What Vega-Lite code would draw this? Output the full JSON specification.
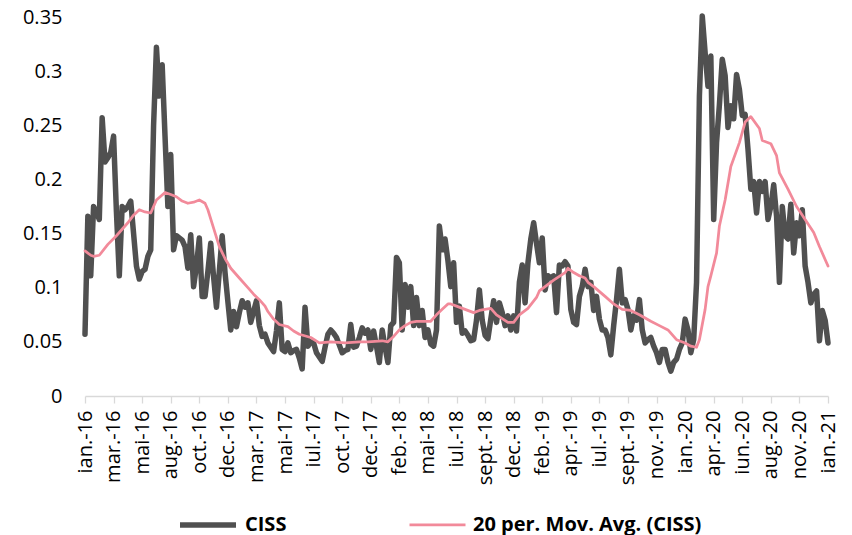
{
"$schema": "https://vega.github.io/schema/vega-lite/v6.json",
"width": 743, "height": 379,
"autosize": {"type": "none"},
"padding": {"left": 85, "top": 17, "right": 24, "bottom": 139},
"background": "white",
"config": {"view": {"stroke": null}, "font": "Open Sans"},
"data": {"values": [
{"w":0,"s":"CISS","v":0.057},{"w":1,"s":"CISS","v":0.166},{"w":2,"s":"CISS","v":0.111},{"w":3,"s":"CISS","v":0.175},{"w":4,"s":"CISS","v":0.170},{"w":5,"s":"CISS","v":0.163},{"w":6,"s":"CISS","v":0.257},{"w":7,"s":"CISS","v":0.216},{"w":8,"s":"CISS","v":0.220},{"w":9,"s":"CISS","v":0.225},
{"w":10,"s":"CISS","v":0.240},{"w":11,"s":"CISS","v":0.170},{"w":12,"s":"CISS","v":0.111},{"w":13,"s":"CISS","v":0.175},{"w":14,"s":"CISS","v":0.172},{"w":15,"s":"CISS","v":0.175},{"w":16,"s":"CISS","v":0.180},{"w":17,"s":"CISS","v":0.150},{"w":18,"s":"CISS","v":0.120},{"w":19,"s":"CISS","v":0.108},
{"w":20,"s":"CISS","v":0.115},{"w":21,"s":"CISS","v":0.117},{"w":22,"s":"CISS","v":0.129},{"w":23,"s":"CISS","v":0.135},{"w":24,"s":"CISS","v":0.250},{"w":25,"s":"CISS","v":0.322},{"w":26,"s":"CISS","v":0.277},{"w":27,"s":"CISS","v":0.306},{"w":28,"s":"CISS","v":0.240},{"w":29,"s":"CISS","v":0.175},
{"w":30,"s":"CISS","v":0.223},{"w":31,"s":"CISS","v":0.135},{"w":32,"s":"CISS","v":0.148},{"w":33,"s":"CISS","v":0.146},{"w":34,"s":"CISS","v":0.144},{"w":35,"s":"CISS","v":0.138},{"w":36,"s":"CISS","v":0.118},{"w":37,"s":"CISS","v":0.149},{"w":38,"s":"CISS","v":0.101},{"w":39,"s":"CISS","v":0.120},
{"w":40,"s":"CISS","v":0.146},{"w":41,"s":"CISS","v":0.092},{"w":42,"s":"CISS","v":0.092},{"w":43,"s":"CISS","v":0.115},{"w":44,"s":"CISS","v":0.141},{"w":45,"s":"CISS","v":0.110},{"w":46,"s":"CISS","v":0.082},{"w":47,"s":"CISS","v":0.115},{"w":48,"s":"CISS","v":0.148},{"w":49,"s":"CISS","v":0.114},
{"w":50,"s":"CISS","v":0.087},{"w":51,"s":"CISS","v":0.061},{"w":52,"s":"CISS","v":0.078},{"w":53,"s":"CISS","v":0.064},{"w":54,"s":"CISS","v":0.077},{"w":55,"s":"CISS","v":0.088},{"w":56,"s":"CISS","v":0.082},{"w":57,"s":"CISS","v":0.086},{"w":58,"s":"CISS","v":0.068},{"w":59,"s":"CISS","v":0.078},
{"w":60,"s":"CISS","v":0.088},{"w":61,"s":"CISS","v":0.065},{"w":62,"s":"CISS","v":0.055},{"w":63,"s":"CISS","v":0.057},{"w":64,"s":"CISS","v":0.049},{"w":65,"s":"CISS","v":0.045},{"w":66,"s":"CISS","v":0.041},{"w":67,"s":"CISS","v":0.060},{"w":68,"s":"CISS","v":0.086},{"w":69,"s":"CISS","v":0.043},
{"w":70,"s":"CISS","v":0.041},{"w":71,"s":"CISS","v":0.049},{"w":72,"s":"CISS","v":0.040},{"w":73,"s":"CISS","v":0.042},{"w":74,"s":"CISS","v":0.043},{"w":75,"s":"CISS","v":0.035},{"w":76,"s":"CISS","v":0.025},{"w":77,"s":"CISS","v":0.082},{"w":78,"s":"CISS","v":0.046},{"w":79,"s":"CISS","v":0.050},
{"w":80,"s":"CISS","v":0.049},{"w":81,"s":"CISS","v":0.040},{"w":82,"s":"CISS","v":0.036},{"w":83,"s":"CISS","v":0.032},{"w":84,"s":"CISS","v":0.045},{"w":85,"s":"CISS","v":0.057},{"w":86,"s":"CISS","v":0.061},{"w":87,"s":"CISS","v":0.058},{"w":88,"s":"CISS","v":0.054},{"w":89,"s":"CISS","v":0.047},
{"w":90,"s":"CISS","v":0.040},{"w":91,"s":"CISS","v":0.042},{"w":92,"s":"CISS","v":0.043},{"w":93,"s":"CISS","v":0.066},{"w":94,"s":"CISS","v":0.045},{"w":95,"s":"CISS","v":0.046},{"w":96,"s":"CISS","v":0.054},{"w":97,"s":"CISS","v":0.063},{"w":98,"s":"CISS","v":0.058},{"w":99,"s":"CISS","v":0.061},
{"w":100,"s":"CISS","v":0.043},{"w":101,"s":"CISS","v":0.060},{"w":102,"s":"CISS","v":0.046},{"w":103,"s":"CISS","v":0.031},{"w":104,"s":"CISS","v":0.061},{"w":105,"s":"CISS","v":0.045},{"w":106,"s":"CISS","v":0.031},{"w":107,"s":"CISS","v":0.065},{"w":108,"s":"CISS","v":0.068},{"w":109,"s":"CISS","v":0.128},
{"w":110,"s":"CISS","v":0.123},{"w":111,"s":"CISS","v":0.061},{"w":112,"s":"CISS","v":0.103},{"w":113,"s":"CISS","v":0.082},{"w":114,"s":"CISS","v":0.101},{"w":115,"s":"CISS","v":0.065},{"w":116,"s":"CISS","v":0.091},{"w":117,"s":"CISS","v":0.065},{"w":118,"s":"CISS","v":0.079},{"w":119,"s":"CISS","v":0.054},
{"w":120,"s":"CISS","v":0.061},{"w":121,"s":"CISS","v":0.048},{"w":122,"s":"CISS","v":0.046},{"w":123,"s":"CISS","v":0.061},{"w":124,"s":"CISS","v":0.157},{"w":125,"s":"CISS","v":0.135},{"w":126,"s":"CISS","v":0.145},{"w":127,"s":"CISS","v":0.125},{"w":128,"s":"CISS","v":0.101},{"w":129,"s":"CISS","v":0.123},
{"w":130,"s":"CISS","v":0.068},{"w":131,"s":"CISS","v":0.083},{"w":132,"s":"CISS","v":0.058},{"w":133,"s":"CISS","v":0.060},{"w":134,"s":"CISS","v":0.056},{"w":135,"s":"CISS","v":0.051},{"w":136,"s":"CISS","v":0.052},{"w":137,"s":"CISS","v":0.070},{"w":138,"s":"CISS","v":0.098},{"w":139,"s":"CISS","v":0.070},
{"w":140,"s":"CISS","v":0.056},{"w":141,"s":"CISS","v":0.053},{"w":142,"s":"CISS","v":0.071},{"w":143,"s":"CISS","v":0.088},{"w":144,"s":"CISS","v":0.068},{"w":145,"s":"CISS","v":0.086},{"w":146,"s":"CISS","v":0.077},{"w":147,"s":"CISS","v":0.065},{"w":148,"s":"CISS","v":0.074},{"w":149,"s":"CISS","v":0.061},
{"w":150,"s":"CISS","v":0.074},{"w":151,"s":"CISS","v":0.060},{"w":152,"s":"CISS","v":0.105},{"w":153,"s":"CISS","v":0.121},{"w":154,"s":"CISS","v":0.086},{"w":155,"s":"CISS","v":0.123},{"w":156,"s":"CISS","v":0.145},{"w":157,"s":"CISS","v":0.160},{"w":158,"s":"CISS","v":0.141},{"w":159,"s":"CISS","v":0.123},
{"w":160,"s":"CISS","v":0.146},{"w":161,"s":"CISS","v":0.098},{"w":162,"s":"CISS","v":0.111},{"w":163,"s":"CISS","v":0.109},{"w":164,"s":"CISS","v":0.111},{"w":165,"s":"CISS","v":0.077},{"w":166,"s":"CISS","v":0.121},{"w":167,"s":"CISS","v":0.120},{"w":168,"s":"CISS","v":0.124},{"w":169,"s":"CISS","v":0.120},
{"w":170,"s":"CISS","v":0.080},{"w":171,"s":"CISS","v":0.068},{"w":172,"s":"CISS","v":0.066},{"w":173,"s":"CISS","v":0.092},{"w":174,"s":"CISS","v":0.101},{"w":175,"s":"CISS","v":0.117},{"w":176,"s":"CISS","v":0.101},{"w":177,"s":"CISS","v":0.105},{"w":178,"s":"CISS","v":0.079},{"w":179,"s":"CISS","v":0.092},
{"w":180,"s":"CISS","v":0.071},{"w":181,"s":"CISS","v":0.061},{"w":182,"s":"CISS","v":0.061},{"w":183,"s":"CISS","v":0.054},{"w":184,"s":"CISS","v":0.038},{"w":185,"s":"CISS","v":0.065},{"w":186,"s":"CISS","v":0.089},{"w":187,"s":"CISS","v":0.117},{"w":188,"s":"CISS","v":0.086},{"w":189,"s":"CISS","v":0.089},
{"w":190,"s":"CISS","v":0.080},{"w":191,"s":"CISS","v":0.061},{"w":192,"s":"CISS","v":0.074},{"w":193,"s":"CISS","v":0.070},{"w":194,"s":"CISS","v":0.089},{"w":195,"s":"CISS","v":0.061},{"w":196,"s":"CISS","v":0.049},{"w":197,"s":"CISS","v":0.052},{"w":198,"s":"CISS","v":0.054},{"w":199,"s":"CISS","v":0.046},
{"w":200,"s":"CISS","v":0.040},{"w":201,"s":"CISS","v":0.031},{"w":202,"s":"CISS","v":0.043},{"w":203,"s":"CISS","v":0.043},{"w":204,"s":"CISS","v":0.031},{"w":205,"s":"CISS","v":0.023},{"w":206,"s":"CISS","v":0.031},{"w":207,"s":"CISS","v":0.034},{"w":208,"s":"CISS","v":0.043},{"w":209,"s":"CISS","v":0.049},
{"w":210,"s":"CISS","v":0.071},{"w":211,"s":"CISS","v":0.061},{"w":212,"s":"CISS","v":0.040},{"w":213,"s":"CISS","v":0.052},{"w":214,"s":"CISS","v":0.105},{"w":215,"s":"CISS","v":0.277},{"w":216,"s":"CISS","v":0.351},{"w":217,"s":"CISS","v":0.317},{"w":218,"s":"CISS","v":0.286},{"w":219,"s":"CISS","v":0.314},
{"w":220,"s":"CISS","v":0.163},{"w":221,"s":"CISS","v":0.234},{"w":222,"s":"CISS","v":0.269},{"w":223,"s":"CISS","v":0.311},{"w":224,"s":"CISS","v":0.296},{"w":225,"s":"CISS","v":0.248},{"w":226,"s":"CISS","v":0.268},{"w":227,"s":"CISS","v":0.256},{"w":228,"s":"CISS","v":0.297},{"w":229,"s":"CISS","v":0.283},
{"w":230,"s":"CISS","v":0.259},{"w":231,"s":"CISS","v":0.260},{"w":232,"s":"CISS","v":0.228},{"w":233,"s":"CISS","v":0.191},{"w":234,"s":"CISS","v":0.198},{"w":235,"s":"CISS","v":0.169},{"w":236,"s":"CISS","v":0.198},{"w":237,"s":"CISS","v":0.189},{"w":238,"s":"CISS","v":0.198},{"w":239,"s":"CISS","v":0.163},
{"w":240,"s":"CISS","v":0.175},{"w":241,"s":"CISS","v":0.195},{"w":242,"s":"CISS","v":0.166},{"w":243,"s":"CISS","v":0.105},{"w":244,"s":"CISS","v":0.175},{"w":245,"s":"CISS","v":0.148},{"w":246,"s":"CISS","v":0.145},{"w":247,"s":"CISS","v":0.177},{"w":248,"s":"CISS","v":0.132},{"w":249,"s":"CISS","v":0.160},
{"w":250,"s":"CISS","v":0.148},{"w":251,"s":"CISS","v":0.172},{"w":252,"s":"CISS","v":0.120},{"w":253,"s":"CISS","v":0.105},{"w":254,"s":"CISS","v":0.086},{"w":255,"s":"CISS","v":0.094},{"w":256,"s":"CISS","v":0.097},{"w":257,"s":"CISS","v":0.051},{"w":258,"s":"CISS","v":0.079},{"w":259,"s":"CISS","v":0.070},
{"w":260,"s":"CISS","v":0.049},
{"w":0,"s":"20 per. Mov. Avg. (CISS)","v":0.134},{"w":2,"s":"20 per. Mov. Avg. (CISS)","v":0.130},{"w":3,"s":"20 per. Mov. Avg. (CISS)","v":0.129},{"w":5,"s":"20 per. Mov. Avg. (CISS)","v":0.130},{"w":8,"s":"20 per. Mov. Avg. (CISS)","v":0.140},{"w":11,"s":"20 per. Mov. Avg. (CISS)","v":0.148},{"w":15,"s":"20 per. Mov. Avg. (CISS)","v":0.160},{"w":17,"s":"20 per. Mov. Avg. (CISS)","v":0.167},{"w":19,"s":"20 per. Mov. Avg. (CISS)","v":0.172},{"w":21,"s":"20 per. Mov. Avg. (CISS)","v":0.170},
{"w":23,"s":"20 per. Mov. Avg. (CISS)","v":0.169},{"w":25,"s":"20 per. Mov. Avg. (CISS)","v":0.181},{"w":28,"s":"20 per. Mov. Avg. (CISS)","v":0.188},{"w":30,"s":"20 per. Mov. Avg. (CISS)","v":0.186},{"w":32,"s":"20 per. Mov. Avg. (CISS)","v":0.184},{"w":34,"s":"20 per. Mov. Avg. (CISS)","v":0.180},{"w":36,"s":"20 per. Mov. Avg. (CISS)","v":0.178},{"w":38,"s":"20 per. Mov. Avg. (CISS)","v":0.179},{"w":40,"s":"20 per. Mov. Avg. (CISS)","v":0.181},{"w":42,"s":"20 per. Mov. Avg. (CISS)","v":0.178},
{"w":43,"s":"20 per. Mov. Avg. (CISS)","v":0.172},{"w":45,"s":"20 per. Mov. Avg. (CISS)","v":0.155},{"w":47,"s":"20 per. Mov. Avg. (CISS)","v":0.138},{"w":49,"s":"20 per. Mov. Avg. (CISS)","v":0.127},{"w":51,"s":"20 per. Mov. Avg. (CISS)","v":0.118},{"w":54,"s":"20 per. Mov. Avg. (CISS)","v":0.109},{"w":57,"s":"20 per. Mov. Avg. (CISS)","v":0.100},{"w":59,"s":"20 per. Mov. Avg. (CISS)","v":0.094},{"w":61,"s":"20 per. Mov. Avg. (CISS)","v":0.089},{"w":63,"s":"20 per. Mov. Avg. (CISS)","v":0.083},
{"w":64,"s":"20 per. Mov. Avg. (CISS)","v":0.078},{"w":66,"s":"20 per. Mov. Avg. (CISS)","v":0.071},{"w":68,"s":"20 per. Mov. Avg. (CISS)","v":0.066},{"w":71,"s":"20 per. Mov. Avg. (CISS)","v":0.064},{"w":73,"s":"20 per. Mov. Avg. (CISS)","v":0.060},{"w":75,"s":"20 per. Mov. Avg. (CISS)","v":0.057},{"w":79,"s":"20 per. Mov. Avg. (CISS)","v":0.054},{"w":82,"s":"20 per. Mov. Avg. (CISS)","v":0.049},{"w":86,"s":"20 per. Mov. Avg. (CISS)","v":0.050},{"w":91,"s":"20 per. Mov. Avg. (CISS)","v":0.049},
{"w":96,"s":"20 per. Mov. Avg. (CISS)","v":0.050},{"w":99,"s":"20 per. Mov. Avg. (CISS)","v":0.050},{"w":104,"s":"20 per. Mov. Avg. (CISS)","v":0.051},{"w":106,"s":"20 per. Mov. Avg. (CISS)","v":0.050},{"w":108,"s":"20 per. Mov. Avg. (CISS)","v":0.055},{"w":110,"s":"20 per. Mov. Avg. (CISS)","v":0.061},{"w":112,"s":"20 per. Mov. Avg. (CISS)","v":0.065},{"w":114,"s":"20 per. Mov. Avg. (CISS)","v":0.068},{"w":116,"s":"20 per. Mov. Avg. (CISS)","v":0.069},{"w":121,"s":"20 per. Mov. Avg. (CISS)","v":0.069},
{"w":123,"s":"20 per. Mov. Avg. (CISS)","v":0.075},{"w":125,"s":"20 per. Mov. Avg. (CISS)","v":0.080},{"w":127,"s":"20 per. Mov. Avg. (CISS)","v":0.085},{"w":128,"s":"20 per. Mov. Avg. (CISS)","v":0.085},{"w":130,"s":"20 per. Mov. Avg. (CISS)","v":0.083},{"w":133,"s":"20 per. Mov. Avg. (CISS)","v":0.080},{"w":136,"s":"20 per. Mov. Avg. (CISS)","v":0.077},{"w":138,"s":"20 per. Mov. Avg. (CISS)","v":0.079},{"w":142,"s":"20 per. Mov. Avg. (CISS)","v":0.081},{"w":144,"s":"20 per. Mov. Avg. (CISS)","v":0.075},
{"w":148,"s":"20 per. Mov. Avg. (CISS)","v":0.068},{"w":150,"s":"20 per. Mov. Avg. (CISS)","v":0.068},{"w":152,"s":"20 per. Mov. Avg. (CISS)","v":0.075},{"w":155,"s":"20 per. Mov. Avg. (CISS)","v":0.081},{"w":158,"s":"20 per. Mov. Avg. (CISS)","v":0.091},{"w":159,"s":"20 per. Mov. Avg. (CISS)","v":0.097},{"w":161,"s":"20 per. Mov. Avg. (CISS)","v":0.101},{"w":164,"s":"20 per. Mov. Avg. (CISS)","v":0.107},{"w":168,"s":"20 per. Mov. Avg. (CISS)","v":0.114},{"w":169,"s":"20 per. Mov. Avg. (CISS)","v":0.118},
{"w":171,"s":"20 per. Mov. Avg. (CISS)","v":0.114},{"w":173,"s":"20 per. Mov. Avg. (CISS)","v":0.111},{"w":175,"s":"20 per. Mov. Avg. (CISS)","v":0.109},{"w":176,"s":"20 per. Mov. Avg. (CISS)","v":0.105},{"w":178,"s":"20 per. Mov. Avg. (CISS)","v":0.101},{"w":182,"s":"20 per. Mov. Avg. (CISS)","v":0.092},{"w":185,"s":"20 per. Mov. Avg. (CISS)","v":0.085},{"w":188,"s":"20 per. Mov. Avg. (CISS)","v":0.080},{"w":191,"s":"20 per. Mov. Avg. (CISS)","v":0.079},{"w":194,"s":"20 per. Mov. Avg. (CISS)","v":0.075},
{"w":198,"s":"20 per. Mov. Avg. (CISS)","v":0.069},{"w":201,"s":"20 per. Mov. Avg. (CISS)","v":0.065},{"w":204,"s":"20 per. Mov. Avg. (CISS)","v":0.061},{"w":207,"s":"20 per. Mov. Avg. (CISS)","v":0.052},{"w":210,"s":"20 per. Mov. Avg. (CISS)","v":0.049},{"w":212,"s":"20 per. Mov. Avg. (CISS)","v":0.046},{"w":214,"s":"20 per. Mov. Avg. (CISS)","v":0.045},{"w":215,"s":"20 per. Mov. Avg. (CISS)","v":0.052},{"w":217,"s":"20 per. Mov. Avg. (CISS)","v":0.080},{"w":218,"s":"20 per. Mov. Avg. (CISS)","v":0.101},
{"w":219,"s":"20 per. Mov. Avg. (CISS)","v":0.111},{"w":221,"s":"20 per. Mov. Avg. (CISS)","v":0.132},{"w":222,"s":"20 per. Mov. Avg. (CISS)","v":0.157},{"w":224,"s":"20 per. Mov. Avg. (CISS)","v":0.181},{"w":226,"s":"20 per. Mov. Avg. (CISS)","v":0.212},{"w":229,"s":"20 per. Mov. Avg. (CISS)","v":0.234},{"w":231,"s":"20 per. Mov. Avg. (CISS)","v":0.253},{"w":233,"s":"20 per. Mov. Avg. (CISS)","v":0.258},{"w":236,"s":"20 per. Mov. Avg. (CISS)","v":0.247},{"w":237,"s":"20 per. Mov. Avg. (CISS)","v":0.236},
{"w":240,"s":"20 per. Mov. Avg. (CISS)","v":0.233},{"w":242,"s":"20 per. Mov. Avg. (CISS)","v":0.222},{"w":243,"s":"20 per. Mov. Avg. (CISS)","v":0.206},{"w":246,"s":"20 per. Mov. Avg. (CISS)","v":0.191},{"w":249,"s":"20 per. Mov. Avg. (CISS)","v":0.175},{"w":252,"s":"20 per. Mov. Avg. (CISS)","v":0.163},{"w":255,"s":"20 per. Mov. Avg. (CISS)","v":0.151},{"w":257,"s":"20 per. Mov. Avg. (CISS)","v":0.138},{"w":260,"s":"20 per. Mov. Avg. (CISS)","v":0.120}
]},
"encoding": {
  "x": {"field": "w", "type": "quantitative", "scale": {"domain": [0, 260], "nice": false, "zero": false},
    "axis": {"title": null, "values": [0,10,20,30,40,50,60,70,80,90,100,110,120,130,140,150,160,170,180,190,200,210,220,230,240,250,260],
      "labelExpr": "['ian.-16','mar.-16','mai-16','aug.-16','oct.-16','dec.-16','mar.-17','mai-17','iul.-17','oct.-17','dec.-17','feb.-18','mai-18','iul.-18','sept.-18','dec.-18','feb.-19','apr.-19','iul.-19','sept.-19','nov.-19','ian.-20','apr.-20','iun.-20','aug.-20','nov.-20','ian.-21'][round(datum.value/10)]",
      "labelAngle": -90, "labelAlign": "right", "labelBaseline": "middle", "labelFontSize": 20, "labelColor": "#000000",
      "labelPadding": 7, "tickSize": 7, "tickColor": "#d9d9d9", "domainColor": "#d9d9d9", "tickWidth": 1.3, "domainWidth": 1.3,
      "grid": false, "labelOverlap": false, "labelBound": false, "labelFlush": false}},
  "y": {"field": "v", "type": "quantitative", "scale": {"domain": [0, 0.35], "nice": false},
    "axis": {"title": null, "values": [0,0.05,0.1,0.15,0.2,0.25,0.3,0.35], "format": ".2~f", "labelFontSize": 20, "labelColor": "#000000",
      "domain": false, "ticks": false, "grid": false, "labelPadding": 23, "labelFlush": false}},
  "color": {"field": "s", "type": "nominal", "scale": {"domain": ["CISS", "20 per. Mov. Avg. (CISS)"], "range": ["#505050", "#f28a9a"]},
    "legend": {"title": null, "orient": "none", "legendX": 110, "legendY": 495, "direction": "horizontal", "symbolType": "M-2.8,0H2.8", "symbolSize": 400,
      "labelFontSize": 20, "labelFontWeight": "bold", "labelColor": "#000000", "labelOffset": 24, "labelLimit": 500, "columnPadding": 117, "padding": 0}},
  "strokeWidth": {"field": "s", "type": "nominal", "scale": {"domain": ["CISS", "20 per. Mov. Avg. (CISS)"], "range": [5.5, 2.75]},
    "legend": {"title": null, "orient": "none", "legendX": 110, "legendY": 495, "direction": "horizontal", "symbolType": "M-2.8,0H2.8", "symbolSize": 400,
      "labelFontSize": 20, "labelFontWeight": "bold", "labelColor": "#000000", "labelOffset": 24, "labelLimit": 500, "columnPadding": 117, "padding": 0}}
},
"layer": [
  {"transform": [{"filter": "datum.s === 'CISS'"}], "mark": {"type": "line", "strokeJoin": "round", "strokeCap": "round"}},
  {"transform": [{"filter": "datum.s !== 'CISS'"}], "mark": {"type": "line", "strokeJoin": "round", "strokeCap": "round"}}
]
}
